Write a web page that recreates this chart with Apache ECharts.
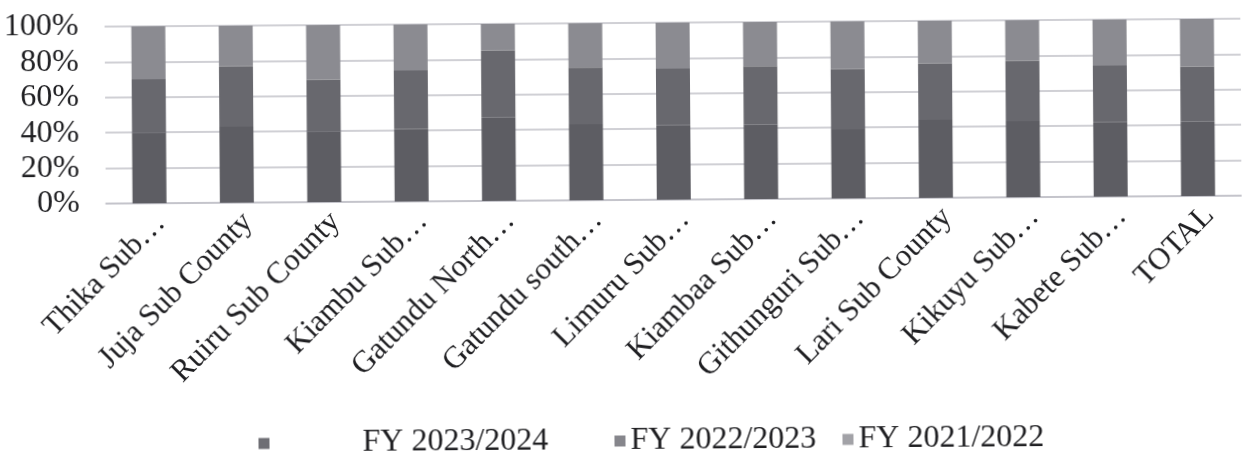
<!DOCTYPE html>
<html>
<head>
<meta charset="utf-8">
<script src="https://cdn.jsdelivr.net/npm/echarts@6/dist/echarts.min.js"></script>
<style>
  html, body { margin: 0; padding: 0; background: #ffffff; }
  #chart { width: 1242px; height: 454px; transform: rotate(-0.4deg); transform-origin: 50% 50%; }
</style>
</head>
<body>
<div id="chart"></div>
<script>
// Sub-county labels along the category axis
const subCounties = [
  'Thika Sub…', 'Juja Sub County', 'Ruiru Sub County', 'Kiambu Sub…',
  'Gatundu North…', 'Gatundu south…', 'Limuru Sub…', 'Kiambaa Sub…',
  'Githunguri Sub…', 'Lari Sub County', 'Kikuyu Sub…', 'Kabete Sub…', 'TOTAL'
];

// Share of each financial year (percent of the three-year total)
const fy2023_2024 = [40, 43, 40, 41, 47, 43, 42, 42, 39, 44, 43, 42, 42];
const fy2022_2023 = [30, 34, 29, 33, 38, 32, 32, 33, 34, 32, 34, 32, 31];
const fy2021_2022 = [30, 23, 31, 26, 15, 25, 26, 25, 27, 24, 23, 26, 27];

const seriesNames = ['FY 2023/2024', 'FY 2022/2023', 'FY 2021/2022'];
const yTicks = [0, 20, 40, 60, 80, 100];

const serif = "'Liberation Serif', 'Times New Roman', serif";
const ink = '#1f1f22';
const colors = ['#5d5d63', '#68686e', '#8b8b91'];
const keyColors = ['#6e6e74', '#86868c', '#a2a2a7'];

const chart = echarts.init(document.getElementById('chart'), null, { renderer: 'canvas' });

const legendBase = {
  orient: 'horizontal',
  top: 420,
  itemWidth: 11,
  itemHeight: 11,
  icon: 'rect',
  selectedMode: false,
  textStyle: { fontFamily: serif, fontSize: 32, color: ink }
};

function legendItem(i) {
  return { name: seriesNames[i], itemStyle: { color: keyColors[i] } };
}

chart.setOption({
  animation: false,
  color: colors,
  grid: { left: 106, right: -12, top: 23, bottom: 254, containLabel: false },
  legend: [
    Object.assign({}, legendBase, { left: 252, data: [legendItem(0)],
      textStyle: Object.assign({}, legendBase.textStyle, { padding: [0, 0, 0, 88] }) }),
    Object.assign({}, legendBase, { left: 608, data: [legendItem(1)] }),
    Object.assign({}, legendBase, { left: 836, data: [legendItem(2)] })
  ],
  xAxis: {
    type: 'category',
    data: subCounties,
    axisLine: { show: true, lineStyle: { color: '#c0c0c7', width: 1.5 } },
    axisTick: { show: false },
    axisLabel: {
      interval: 0,
      rotate: 45,
      margin: 4,
      verticalAlign: 'top',
      fontFamily: serif,
      fontSize: 31,
      color: ink
    }
  },
  yAxis: {
    type: 'value',
    min: yTicks[0],
    max: yTicks[yTicks.length - 1],
    interval: yTicks[1] - yTicks[0],
    axisLine: { show: false },
    axisTick: { show: false },
    splitLine: { lineStyle: { color: '#c0c0c7', width: 1.5 } },
    axisLabel: {
      formatter: '{value}%',
      margin: 26,
      fontFamily: serif,
      fontSize: 32,
      color: ink
    }
  },
  series: [
    { name: seriesNames[0], type: 'bar', stack: 'share', barWidth: 34, data: fy2023_2024 },
    { name: seriesNames[1], type: 'bar', stack: 'share', barWidth: 34, data: fy2022_2023 },
    { name: seriesNames[2], type: 'bar', stack: 'share', barWidth: 34, data: fy2021_2022 }
  ]
});
</script>
</body>
</html>
